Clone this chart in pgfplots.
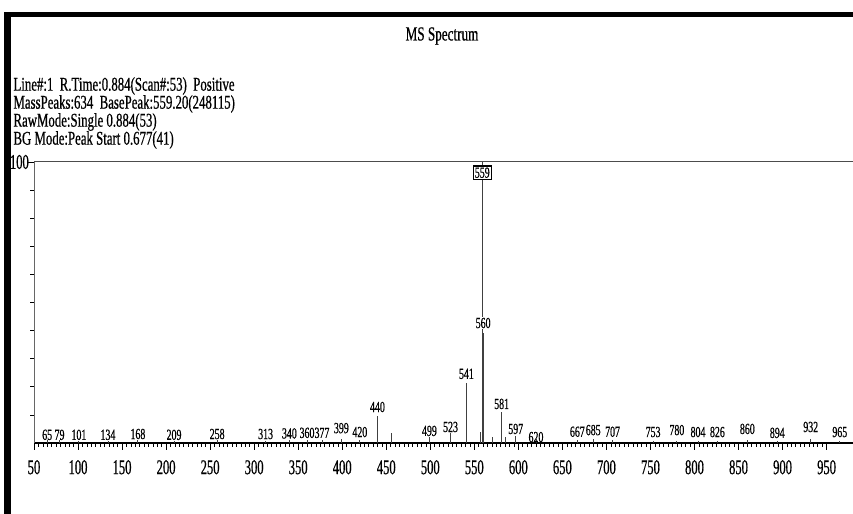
\documentclass[border=0pt]{standalone}
\usepackage{pgfplots}
\pgfplotsset{compat=1.18}
\usepackage{fontspec}
\setmainfont{Liberation Serif}
\newfontfamily\hdr[FakeStretch=0.66,FakeBold=0.6]{Liberation Serif}
\newfontfamily\tck[FakeStretch=0.6,FakeBold=0.6]{Liberation Serif}
\newfontfamily\pk[FakeStretch=0.64,FakeBold=0.6]{Liberation Serif}
\pgfplotstableread{
mz int
65 1.0
79 1.0
101 0.8
134 0.8
168 1.2
209 0.8
258 1.0
313 0.8
340 1.2
360 1.0
377 1.0
399 1.5
420 1.2
440 9.5
456 3.5
499 2.2
523 3.5
541 21.5
557 4.0
559 100
560 39
571 2.0
581 11
585 2.0
597 2.5
620 1.5
667 1.0
685 1.5
707 1.0
753 0.8
780 0.8
804 0.8
826 0.8
860 1.0
894 0.8
932 1.5
965 0.8
}\peaks
\begin{document}
\begin{tikzpicture}[x=1bp,y=1bp]
\useasboundingbox (0,0) rectangle (853,514);
\fill[white] (0,0) rectangle (853,514);
% scan frame
\fill[black] (4,0) rectangle (11,502);
\fill[black] (4,497) rectangle (853,502);
% title and header
\node[font=\hdr\fontsize{20}{22}\selectfont] at (442,478) {MS Spectrum};
\node[font=\hdr\fontsize{19.5}{21}\selectfont, anchor=west] at (10,428) {Line\#:1\ \ R.Time:0.884(Scan\#:53)\ \ Positive};
\node[font=\hdr\fontsize{19.5}{21}\selectfont, anchor=west] at (10,410) {MassPeaks:634\ \ BasePeak:559.20(248115)};
\node[font=\hdr\fontsize{19.5}{21}\selectfont, anchor=west] at (10,392) {RawMode:Single 0.884(53)};
\node[font=\hdr\fontsize{19.5}{21}\selectfont, anchor=west] at (10,374) {BG Mode:Peak Start 0.677(41)};
\begin{axis}[
  at={(34bp,71bp)}, anchor=south west,
  scale only axis, width=819bp, height=281bp,
  xmin=50, xmax=980, ymin=0, ymax=100,
  axis x line*=bottom, axis y line*=left,
  clip=false,
  xtick={50,100,...,950},
  minor x tick num=9,
  ytick={100}, minor ytick={10,20,...,90},
  tick align=outside,
  major tick length=7bp, minor tick length=4bp,
  every tick/.style={black, line width=0.6bp},
  x axis line style={line width=2.5bp, black},
  y axis line style={line width=0.6bp, black!60},
  /pgf/number format/assume math mode=true,
  xticklabel style={font=\tck\fontsize{21}{23}\selectfont, anchor=north, inner sep=0pt, yshift=-10bp},
  yticklabel style={font=\tck\fontsize{21}{23}\selectfont, anchor=east, inner sep=0pt, xshift=2bp},
]
\draw[line width=1bp, black!70] (axis cs:50,100) -- (axis cs:980,100);
\addplot[ycomb, black!75, line width=0.9bp, mark=none] table[x=mz, y=int] {\peaks};
\begin{scope}[every node/.style={font=\pk\fontsize{15.5}{17}\selectfont, inner sep=0pt}]
\node at (axis cs:65,2.9) {65};
\node at (axis cs:79,2.9) {79};
\node at (axis cs:101,2.9) {101};
\node at (axis cs:134,2.9) {134};
\node at (axis cs:168,3.2) {168};
\node at (axis cs:209,2.9) {209};
\node at (axis cs:258,3.2) {258};
\node at (axis cs:313,3.2) {313};
\node at (axis cs:340,3.4) {340};
\node at (axis cs:360,3.6) {360};
\node at (axis cs:377,3.6) {377};
\node at (axis cs:399,5.3) {399};
\node at (axis cs:420,3.9) {420};
\node at (axis cs:440,12.8) {440};
\node at (axis cs:499,4.3) {499};
\node at (axis cs:523,5.7) {523};
\node at (axis cs:541,24.6) {541};
\node[fill=white, inner sep=0.5pt] at (axis cs:560,42.7) {560};
\node at (axis cs:581,13.9) {581};
\node at (axis cs:597,5.0) {597};
\node at (axis cs:620,2.1) {620};
\node at (axis cs:667,4.0) {667};
\node at (axis cs:685,4.6) {685};
\node at (axis cs:707,4.0) {707};
\node at (axis cs:753,3.9) {753};
\node at (axis cs:780,4.6) {780};
\node at (axis cs:804,3.9) {804};
\node at (axis cs:826,3.9) {826};
\node at (axis cs:860,5.0) {860};
\node at (axis cs:894,3.6) {894};
\node at (axis cs:932,5.7) {932};
\node at (axis cs:965,3.9) {965};
\node[draw=black, line width=1.2bp, fill=white, inner sep=1.5pt] at (axis cs:559,96.2) {559};
\end{scope}
\end{axis}
\end{tikzpicture}
\end{document}
